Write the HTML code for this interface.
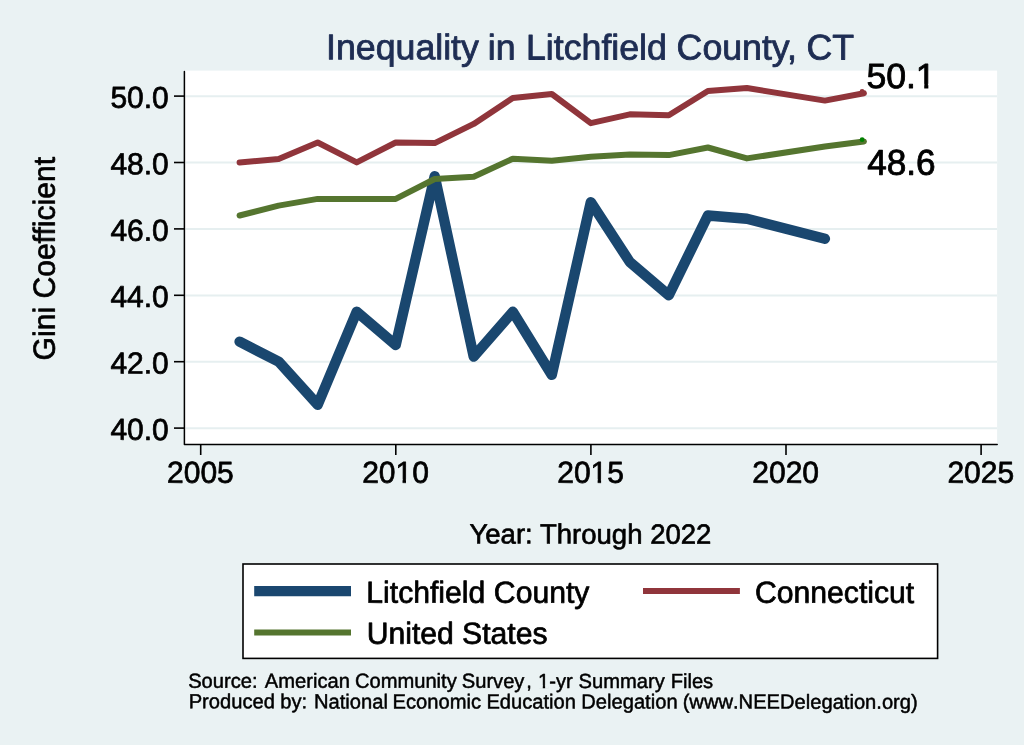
<!DOCTYPE html>
<html><head><meta charset="utf-8"><title>Inequality in Litchfield County, CT</title>
<style>
html,body{margin:0;padding:0;}
body{width:1024px;height:745px;overflow:hidden;background:#eaf2f3;font-family:"Liberation Sans",sans-serif;}
#g{position:relative;width:1024px;height:745px;background:#eaf2f3;overflow:hidden;}
#g svg{position:absolute;left:0;top:0;}
#g svg{will-change:transform;}
text.nk{font-kerning:none;}
text{font-family:"Liberation Sans",sans-serif;text-rendering:geometricPrecision;font-variant-ligatures:none;stroke-linejoin:round;}
</style></head><body>
<div id="g">
<svg width="1024" height="745" viewBox="0 0 1024 745">
<rect x="184.4" y="70.6" width="812.7" height="373.9" fill="#fff"/>
<line x1="185.5" x2="997" y1="428.2" y2="428.2" stroke="#e6eff0" stroke-width="2"/><line x1="185.5" x2="997" y1="361.8" y2="361.8" stroke="#e6eff0" stroke-width="2"/><line x1="185.5" x2="997" y1="295.4" y2="295.4" stroke="#e6eff0" stroke-width="2"/><line x1="185.5" x2="997" y1="229.0" y2="229.0" stroke="#e6eff0" stroke-width="2"/><line x1="185.5" x2="997" y1="162.6" y2="162.6" stroke="#e6eff0" stroke-width="2"/><line x1="185.5" x2="997" y1="96.2" y2="96.2" stroke="#e6eff0" stroke-width="2"/>
<polyline points="239.6,341.7 278.6,361.6 317.7,404.8 356.7,311.8 395.7,345.0 434.7,176.2 473.7,356.6 512.8,311.8 551.8,374.9 590.8,202.2 629.8,262.0 668.8,295.2 707.9,215.5 746.9,218.8 824.9,238.8" fill="none" stroke="#1a476f" stroke-width="10.4" stroke-linejoin="round" stroke-linecap="round"/>
<polyline points="239.6,162.4 278.6,159.1 317.7,142.5 356.7,162.4 395.7,142.5 434.7,143.1 473.7,123.9 512.8,98.0 551.8,94.0 590.8,123.2 629.8,114.3 668.8,115.3 707.9,91.0 746.9,88.0 824.9,100.6 863.9,93.3" fill="none" stroke="#90353b" stroke-width="6" stroke-linejoin="round" stroke-linecap="round"/>
<polyline points="239.6,215.5 278.6,205.6 317.7,198.9 356.7,198.9 395.7,198.9 434.7,179.0 473.7,176.7 512.8,158.7 551.8,160.7 590.8,156.8 629.8,154.4 668.8,155.1 707.9,147.5 746.9,158.4 824.9,146.5 863.9,141.5" fill="none" stroke="#55752f" stroke-width="6" stroke-linejoin="round" stroke-linecap="round"/>
<circle cx="862.1" cy="139.7" r="2.4" fill="#008000"/>
<circle cx="862.1" cy="91.3" r="2.4" fill="#90353b"/>
<path d="M184.4,71.6 V444.5 H997.2" fill="none" stroke="#000" stroke-width="1.5" stroke-linejoin="round" stroke-linecap="round"/>
<line x1="174" x2="184.4" y1="428.10" y2="428.10" stroke="#000" stroke-width="1.6"/><line x1="174" x2="184.4" y1="361.70" y2="361.70" stroke="#000" stroke-width="1.6"/><line x1="174" x2="184.4" y1="295.30" y2="295.30" stroke="#000" stroke-width="1.6"/><line x1="174" x2="184.4" y1="228.90" y2="228.90" stroke="#000" stroke-width="1.6"/><line x1="174" x2="184.4" y1="162.50" y2="162.50" stroke="#000" stroke-width="1.6"/><line x1="174" x2="184.4" y1="96.10" y2="96.10" stroke="#000" stroke-width="1.6"/>
<line x1="200.7" x2="200.7" y1="444.5" y2="455.0" stroke="#000" stroke-width="1.6"/><line x1="395.8" x2="395.8" y1="444.5" y2="455.0" stroke="#000" stroke-width="1.6"/><line x1="590.9" x2="590.9" y1="444.5" y2="455.0" stroke="#000" stroke-width="1.6"/><line x1="786.0" x2="786.0" y1="444.5" y2="455.0" stroke="#000" stroke-width="1.6"/><line x1="981.1" x2="981.1" y1="444.5" y2="455.0" stroke="#000" stroke-width="1.6"/>
<rect x="243.0" y="564.0" width="694.6" height="94.4" fill="#fff" stroke="#000" stroke-width="1.6"/>
<line x1="254.2" x2="351" y1="591.05" y2="591.05" stroke="#1a476f" stroke-width="10.2"/>
<line x1="254.2" x2="351" y1="632.5" y2="632.5" stroke="#55752f" stroke-width="6"/>
<line x1="643" x2="739.9" y1="591.05" y2="591.05" stroke="#90353b" stroke-width="6"/>
<text x="168.80" y="439.90" font-size="30.00" fill="#000" stroke="#000" stroke-width="0.72" text-anchor="end" transform="translate(168.80 439.90) rotate(0.03) scale(1 1.010) translate(-168.80 -439.90)">40.0</text>
<text x="168.80" y="373.50" font-size="30.00" fill="#000" stroke="#000" stroke-width="0.72" text-anchor="end" transform="translate(168.80 373.50) rotate(0.03) scale(1 1.010) translate(-168.80 -373.50)">42.0</text>
<text x="168.80" y="307.10" font-size="30.00" fill="#000" stroke="#000" stroke-width="0.72" text-anchor="end" transform="translate(168.80 307.10) rotate(0.03) scale(1 1.010) translate(-168.80 -307.10)">44.0</text>
<text x="168.80" y="240.70" font-size="30.00" fill="#000" stroke="#000" stroke-width="0.72" text-anchor="end" transform="translate(168.80 240.70) rotate(0.03) scale(1 1.010) translate(-168.80 -240.70)">46.0</text>
<text x="168.80" y="174.30" font-size="30.00" fill="#000" stroke="#000" stroke-width="0.72" text-anchor="end" transform="translate(168.80 174.30) rotate(0.03) scale(1 1.010) translate(-168.80 -174.30)">48.0</text>
<text x="168.80" y="107.90" font-size="30.00" fill="#000" stroke="#000" stroke-width="0.72" text-anchor="end" transform="translate(168.80 107.90) rotate(0.03) scale(1 1.010) translate(-168.80 -107.90)">50.0</text>
<text x="200.40" y="482.80" font-size="30.00" fill="#000" stroke="#000" stroke-width="0.72" text-anchor="middle" transform="translate(200.40 482.80) rotate(0.03) scale(1 1.010) translate(-200.40 -482.80)">2005</text>
<text x="395.50" y="482.80" font-size="30.00" fill="#000" stroke="#000" stroke-width="0.72" text-anchor="middle" transform="translate(395.50 482.80) rotate(0.03) scale(1 1.010) translate(-395.50 -482.80)">2010</text>
<text x="590.60" y="482.80" font-size="30.00" fill="#000" stroke="#000" stroke-width="0.72" text-anchor="middle" transform="translate(590.60 482.80) rotate(0.03) scale(1 1.010) translate(-590.60 -482.80)">2015</text>
<text x="785.70" y="482.80" font-size="30.00" fill="#000" stroke="#000" stroke-width="0.72" text-anchor="middle" transform="translate(785.70 482.80) rotate(0.03) scale(1 1.010) translate(-785.70 -482.80)">2020</text>
<text x="980.80" y="482.80" font-size="30.00" fill="#000" stroke="#000" stroke-width="0.72" text-anchor="middle" transform="translate(980.80 482.80) rotate(0.03) scale(1 1.010) translate(-980.80 -482.80)">2025</text>
<text x="590.45" y="543.65" font-size="27.55" fill="#000" stroke="#000" stroke-width="0.66" text-anchor="middle" transform="translate(590.45 543.65) rotate(0.03) scale(1 1.010) translate(-590.45 -543.65)">Year: Through 2022</text>
<text x="866.40" y="87.90" font-size="35.60" fill="#000" stroke="#000" stroke-width="0.85" text-anchor="start" transform="translate(866.40 87.90) rotate(0.03) scale(1 0.980) translate(-866.40 -87.90)">50.1</text>
<text x="867.20" y="174.70" font-size="35.20" fill="#000" stroke="#000" stroke-width="0.84" text-anchor="start" transform="translate(867.20 174.70) rotate(0.03) scale(1 1.020) translate(-867.20 -174.70)">48.6</text>
<text x="755.00" y="602.80" font-size="30.15" fill="#000" stroke="#000" stroke-width="0.72" text-anchor="start" transform="translate(755.00 602.80) rotate(0.03) scale(1 1.010) translate(-755.00 -602.80)">Connecticut</text>
<text y="59.45" font-size="35.70" fill="#1e2d53" stroke="#1e2d53" stroke-width="0.86" transform="translate(566.30 59.45) rotate(0.03) scale(1 1.000) translate(-566.30 -59.45)"><tspan x="326.11">Inequality</tspan> <tspan x="487.73">in</tspan> <tspan x="526.02">Litchfield</tspan> <tspan x="676.61">County,</tspan> <tspan x="806.48">CT</tspan></text>
<text y="602.80" font-size="30.15" fill="#000" stroke="#000" stroke-width="0.72" transform="translate(430.08 602.80) rotate(0.03) scale(1 1.010) translate(-430.08 -602.80)"><tspan x="366.30">Litchfield</tspan> <tspan x="493.87">County</tspan></text>
<text y="643.80" font-size="30.15" fill="#000" stroke="#000" stroke-width="0.72" transform="translate(414.39 643.80) rotate(0.03) scale(1 1.010) translate(-414.39 -643.80)"><tspan x="366.71">United</tspan> <tspan x="462.06">States</tspan></text>
<text y="687.85" font-size="20.15" fill="#000" stroke="#000" stroke-width="0.48" class="nk" transform="translate(429.40 687.85) rotate(0.03) scale(1 1.010) translate(-429.40 -687.85)"><tspan x="188.13">Source:</tspan> <tspan x="264.79">American</tspan> <tspan x="354.90">Community</tspan> <tspan x="461.75">Survey</tspan><tspan x="526.20">,</tspan> <tspan x="538.06">1-yr</tspan> <tspan x="578.58">Summary</tspan> <tspan x="670.67">Files</tspan></text>
<text y="708.45" font-size="20.15" fill="#000" stroke="#000" stroke-width="0.48" class="nk" transform="translate(435.67 708.45) rotate(0.03) scale(1 1.010) translate(-435.67 -708.45)"><tspan x="188.67">Produced</tspan> <tspan x="280.23">by:</tspan> <tspan x="314.04">National</tspan> <tspan x="392.54">Economic</tspan> <tspan x="486.42">Education</tspan> <tspan x="581.31">Delegation</tspan> <tspan x="682.67">(www.NEEDelegation.org)</tspan></text>
<rect x="396.40" y="479.35" width="6.12" height="4.95" fill="#eaf2f3"/><rect x="406.00" y="479.35" width="5.70" height="4.95" fill="#eaf2f3"/>
<rect x="591.50" y="479.35" width="6.12" height="4.95" fill="#eaf2f3"/><rect x="601.10" y="479.35" width="5.70" height="4.95" fill="#eaf2f3"/>
<rect x="916.95" y="83.81" width="7.26" height="5.87" fill="#fff"/><rect x="928.34" y="83.81" width="6.76" height="5.87" fill="#fff"/>
<rect x="538.67" y="685.53" width="4.11" height="3.32" fill="#eaf2f3"/><rect x="545.12" y="685.53" width="3.83" height="3.32" fill="#eaf2f3"/>
<text transform="translate(54.8 258.7) rotate(-90.03) scale(1 1.015)" x="0" y="0" font-size="30.09" fill="#000" stroke="#000" stroke-width="0.7" text-anchor="middle">Gini Coefficient</text>
</svg>
</div>
</body></html>
